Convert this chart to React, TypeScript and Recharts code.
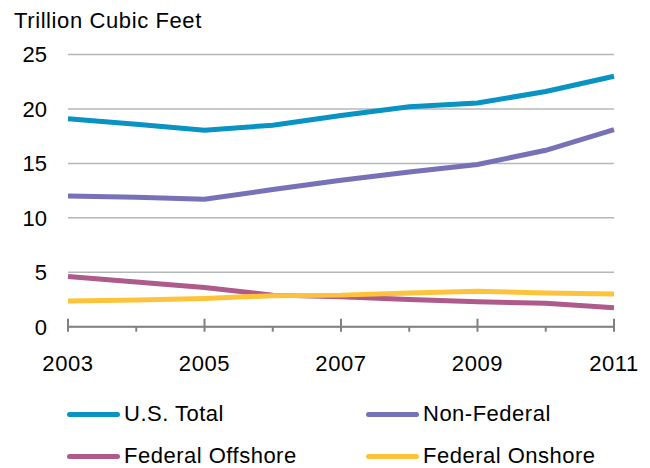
import React from 'react';
import { LineChart, Line, XAxis, YAxis, CartesianGrid } from 'recharts';

const YEARS = ['2003', '2004', '2005', '2006', '2007', '2008', '2009', '2010', '2011'];
const US_TOTAL = [19.1, 18.6, 18.05, 18.5, 19.4, 20.2, 20.55, 21.6, 23.0];
const NON_FEDERAL = [12.0, 11.9, 11.7, 12.6, 13.45, 14.2, 14.9, 16.2, 18.1];
const FED_OFFSHORE = [4.6, 4.1, 3.6, 2.9, 2.75, 2.5, 2.3, 2.15, 1.75];
const FED_ONSHORE = [2.35, 2.45, 2.6, 2.85, 2.9, 3.1, 3.25, 3.1, 3.0];
const Y_TICKS = [0, 5, 10, 15, 20, 25];
const LABELED_YEARS = ['2003', '2005', '2007', '2009', '2011'];

const SERIES = [
  { key: 'total', name: 'U.S. Total', color: '#0993c2' },
  { key: 'nonFed', name: 'Non-Federal', color: '#7771b8' },
  { key: 'offshore', name: 'Federal Offshore', color: '#ae5a8a' },
  { key: 'onshore', name: 'Federal Onshore', color: '#fec33b' },
];

const data = YEARS.map((year, i) => ({
  year,
  total: US_TOTAL[i],
  nonFed: NON_FEDERAL[i],
  offshore: FED_OFFSHORE[i],
  onshore: FED_ONSHORE[i],
}));

const FONT = '"Liberation Sans", Arial, sans-serif';

const XTick = (props: any) => {
  const { x, y, payload } = props;
  const major = LABELED_YEARS.includes(payload.value);
  return (
    <g>
      <line x1={x} x2={x} y1={major ? y - 8 : y} y2={y + 5} stroke="#808080" strokeWidth={2} />
      {major && (
        <text x={x} y={y + 44} textAnchor="middle" fontSize={22} fill="#000" fontFamily={FONT} letterSpacing={0.6}>
          {payload.value}
        </text>
      )}
    </g>
  );
};

const LegendBox = () => (
  <div style={{ position: 'absolute', left: 0, top: 402, width: 650, height: 66, fontFamily: FONT, fontSize: 22, letterSpacing: 0.5 }}>
    {SERIES.map((s, i) => {
      const left = i % 2 === 0 ? 67 : 366;
      const top = i < 2 ? 0 : 42;
      return (
        <div key={s.key} style={{ position: 'absolute', left, top, display: 'flex', alignItems: 'center', whiteSpace: 'nowrap', lineHeight: '24px' }}>
          <div style={{ width: 53, height: 5, borderRadius: 3, background: s.color, marginRight: 4 }} />
          <span>{s.name}</span>
        </div>
      );
    })}
  </div>
);

export default function App() {
  return (
    <div style={{ position: 'absolute', left: 0, top: 0, width: 650, height: 468, background: '#fff', overflow: 'hidden' }}>
      <div style={{ position: 'absolute', left: 14, top: 8, fontFamily: FONT, fontSize: 22, letterSpacing: 0.6 }}>
        Trillion Cubic Feet
      </div>
      <LineChart width={650} height={468} data={data} margin={{ top: 54.5, right: 36, left: 8, bottom: 140.3 }}>
        <CartesianGrid vertical={false} stroke="#b5b8b8" strokeWidth={1.5} />
        <XAxis
          dataKey="year"
          axisLine={{ stroke: '#808080', strokeWidth: 2 }}
          tickLine={false}
          tickSize={0}
          tickMargin={0}
          interval={0}
          tick={<XTick />}
          height={1}
        />
        <YAxis
          domain={[0, 25]}
          ticks={Y_TICKS}
          width={60}
          axisLine={false}
          tickLine={false}
          tickSize={0}
          tickMargin={21}
          tick={{ fontSize: 22, fill: '#000', fontFamily: FONT }}
        />
        {SERIES.map((s) => (
          <Line
            key={s.key}
            type="linear"
            dataKey={s.key}
            name={s.name}
            stroke={s.color}
            strokeWidth={5}
            dot={false}
            isAnimationActive={false}
          />
        ))}
      </LineChart>
      <LegendBox />
    </div>
  );
}
